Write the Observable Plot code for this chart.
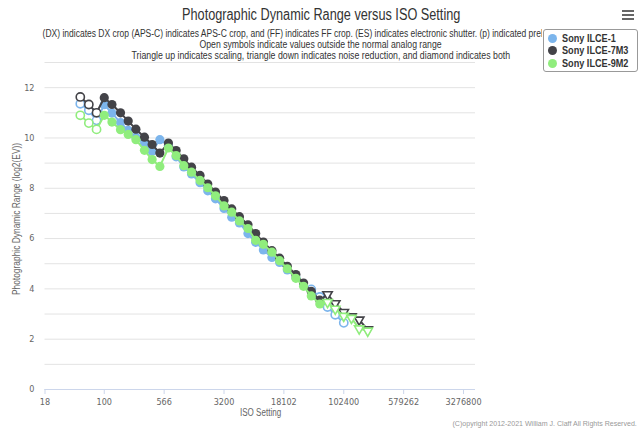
<!DOCTYPE html>
<html>
<head>
<meta charset="utf-8">
<script src="https://cdn.jsdelivr.net/npm/d3@7"></script>
<script src="https://cdn.jsdelivr.net/npm/@observablehq/plot@0.6"></script>
<style>
  body { margin: 0; background: #fff; }
  #wrap { position: relative; width: 640px; height: 431px; overflow: hidden;
          font-family: "Liberation Sans", "DejaVu Sans Condensed", sans-serif; }
  #wrap > svg { position: absolute; left: 0; top: 0; }
  .t { position: absolute; left: 0; top: 0; white-space: nowrap; line-height: 1; transform-origin: center center; }
</style>
</head>
<body>
<div id="wrap"></div>
<script>
// ---------- data ----------
const isos = [50, 64, 80, 100, 125, 160, 200, 250, 320, 400, 500, 640, 800,
  1000, 1250, 1600, 2000, 2500, 3200, 4000, 5000, 6400, 8000,
  10000, 12800, 16000, 20000, 25600, 32000, 40000, 51200, 64000, 80000,
  102400, 128000, 160000, 204800];

const cameras = ["Sony ILCE-1", "Sony ILCE-7M3", "Sony ILCE-9M2"];
const colors = ["#7cb5ec", "#434348", "#90ed7d"];

const ilce1 = [11.36, 11.1, 10.7, 11.32, 10.99, 10.61, 10.30, 10.03, 9.77, 9.47, 9.93, 9.7, 9.25,
  8.85, 8.57, 8.22, 7.9, 7.58, 7.2, 6.85, 6.62, 6.2, 5.85,
  5.55, 5.25, 5.05, 4.75, 4.45, 4.15, 3.98, 3.68, 3.28, 2.97,
  2.65, null, null, null];
const ilce7m3 = [11.63, 11.33, 11.0, 11.6, 11.33, 11.0, 10.67, 10.35, 10.03, 9.74, 9.40, 9.8, 9.5,
  9.17, 8.84, 8.51, 8.17, 7.85, 7.51, 7.18, 6.87, 6.55, 6.2,
  5.86, 5.52, 5.22, 4.9, 4.57, 4.23, 3.9, 3.55, 3.78, 3.42,
  3.07, 2.9, 2.77, 2.38];
const ilce9m2 = [10.9, 10.59, 10.34, 10.9, 10.63, 10.33, 10.14, 9.93, 9.51, 9.14, 8.87, 9.6, 9.3,
  8.9, 8.64, 8.31, 8.02, 7.7, 7.3, 7.05, 6.7, 6.4, 5.93,
  5.77, 5.46, 5.12, 4.8, 4.42, 4.1, 3.72, 3.4, 3.47, 3.2,
  2.92, 2.84, 2.42, 2.33];

const seriesValues = [ilce1, ilce7m3, ilce9m2];
const nativeMin = [100, 100, 100];
const nativeMax = [32000, 51200, 51200];
const highSymbol = ["open", "triangle", "triangle"];

const xTickLabels = ["18", "100", "566", "3200", "18102", "102400", "579262", "3276800"];
const xDomain = [18, 4634000];
const yTickLabels = [0, 2, 4, 6, 8, 10, 12];
const yGrid = [0, 1, 2, 3, 4, 5, 6, 7, 8, 9, 10, 11, 12, 13];

const titleText = "Photographic Dynamic Range versus ISO Setting";
const subtitleLines = [
  "(DX) indicates DX crop (APS-C) indicates APS-C crop, and (FF) indicates FF crop. (ES) indicates electronic shutter. (p) indicated preliminary",
  "Open symbols indicate values outside the normal analog range",
  "Triangle up indicates scaling, triangle down indicates noise reduction, and diamond indicates both"
];
const subtitleVisiblePrefix = "(DX) indicates DX crop (APS-C) indicates APS-C crop, and (FF) indicates FF crop. (ES) indicates electronic shutter. (p) indicated pre";
const yLabel = "Photographic Dynamic Range (log2(EV))";
const xLabel = "ISO Setting";
const creditText = "(C)opyright 2012-2021 William J. Claff All Rights Reserved.";

// ---------- build rows ----------
const FONT = '"DejaVu Sans Condensed", "Liberation Sans", sans-serif';
const seriesRows = seriesValues.map((vals, s) => {
  const rows = [];
  vals.forEach((v, i) => {
    if (v == null) return;
    const iso = isos[i];
    let kind = "filled";
    if (iso < nativeMin[s]) kind = "open";
    else if (iso > nativeMax[s]) kind = highSymbol[s];
    rows.push({ camera: cameras[s], iso, lx: Math.log2(iso), dr: v, kind });
  });
  return rows;
});

const xTicks = xTickLabels.map(l => Math.log2(Number(l)));
const marks = [
  Plot.gridY(yGrid, { stroke: "#e3e3e3", strokeOpacity: 1 }),
  Plot.ruleY([0], { stroke: "#ccd6eb" }),
  Plot.axisY(yTickLabels, {
    tickSize: 0, tickPadding: 10.5, fill: "#666", fontSize: 9, label: null
  }),
  Plot.axisX(xTicks, {
    tickSize: 5, tickPadding: 4, stroke: "#ccd6eb", fill: "#666", fontSize: 9,
    tickFormat: d => String(Math.round(2 ** d)), label: null
  })
];
seriesRows.forEach((rows, s) => {
  const c = colors[s];
  marks.push(Plot.line(rows, { x: "lx", y: "dr", stroke: c, strokeWidth: 2 }));
  marks.push(Plot.dot(rows.filter(d => d.kind === "filled"), { x: "lx", y: "dr", r: 4.6, fill: c, stroke: "none" }));
  marks.push(Plot.dot(rows.filter(d => d.kind === "open"), { x: "lx", y: "dr", r: 4.1, fill: "white", stroke: c, strokeWidth: 1.6 }));
  marks.push(Plot.dot(rows.filter(d => d.kind === "triangle"), { x: "lx", y: "dr", r: 3.5, symbol: "triangle", rotate: 180, fill: "white", stroke: c, strokeWidth: 1.6 }));
});

const chart = Plot.plot({
  width: 640, height: 431,
  marginTop: 62, marginLeft: 44.5, marginRight: 165, marginBottom: 42,
  style: { fontFamily: FONT, fontSize: "9px", color: "#666", background: "transparent" },
  x: { type: "linear", domain: xDomain.map(Math.log2), axis: null },
  y: { domain: [0, 13], axis: null },
  marks
});

const wrap = document.getElementById("wrap");
wrap.appendChild(chart);

// place a text so that its box (after horizontal fit) is centered at (cx, cy) with the given width
function place(parent, txt, { size, color, weight = "normal", cx, cy, width, rotate = 0, scale }) {
  const d = document.createElement("div");
  d.className = "t";
  d.textContent = txt;
  Object.assign(d.style, { fontSize: size + "px", color, fontWeight: weight });
  parent.appendChild(d);
  const w = d.offsetWidth, h = d.offsetHeight;
  const sx = scale != null ? scale : width / w;
  d.style.left = (cx - w / 2) + "px";
  d.style.top = (cy - h / 2) + "px";
  d.style.transform = `rotate(${rotate}deg) scaleX(${sx})`;
  return { el: d, w, sx };
}
function measure(txt, size, weight = "normal") {
  const d = document.createElement("div");
  d.className = "t";
  d.textContent = txt;
  Object.assign(d.style, { fontSize: size + "px", fontWeight: weight, visibility: "hidden" });
  wrap.appendChild(d);
  const w = d.offsetWidth;
  d.remove();
  return w;
}

// title
place(wrap, titleText, { size: 16, color: "#333", cx: 321, cy: 15, width: 278 });
// subtitle line 1: left aligned at 43, clipped where the legend box starts (as in the reference)
{
  const size = 10;
  const clip = document.createElement("div");
  Object.assign(clip.style, { position: "absolute", left: "0px", top: "26px", width: "542px", height: "15px", overflow: "hidden" });
  wrap.appendChild(clip);
  const sx = 498 / measure(subtitleVisiblePrefix, size);
  const full = measure(subtitleLines[0], size) * sx;
  place(clip, subtitleLines[0], { size, color: "#333", cx: 43 + full / 2, cy: 7.5, scale: sx });
}
place(wrap, subtitleLines[1], { size: 10, color: "#333", cx: 320, cy: 45, width: 242 });
place(wrap, subtitleLines[2], { size: 10, color: "#333", cx: 320.5, cy: 56, width: 379 });
// axis titles
place(wrap, yLabel, { size: 10, color: "#666", cx: 16, cy: 219, width: 152, rotate: -90 });
place(wrap, xLabel, { size: 10, color: "#666", cx: 260, cy: 413, width: 41 });
// credit
place(wrap, creditText, { size: 8, color: "#999", cx: 636 - 92, cy: 424, width: 184 });

// legend
const lg = document.createElement("div");
Object.assign(lg.style, { position: "absolute", left: "543px", top: "29px", width: "95px", height: "43px",
  border: "1px solid #999", borderRadius: "3px", background: "#fff", boxSizing: "border-box" });
wrap.appendChild(lg);
{
  const size = 10.5;
  const sx = 66 / measure(cameras[2], size, "bold");
  cameras.forEach((name, i) => {
    const cy = 8.3 + i * 12.5;
    const dot = document.createElement("div");
    Object.assign(dot.style, { position: "absolute", left: (8.5 - 4.5) + "px", top: (cy - 4.5) + "px",
      width: "9px", height: "9px", borderRadius: "50%", background: colors[i] });
    lg.appendChild(dot);
    const w = measure(name, size, "bold") * sx;
    place(lg, name, { size, color: "#333", weight: "bold", cx: 18 + w / 2, cy, scale: sx });
  });
}
// menu icon
[11, 15, 19].forEach(y => {
  const b = document.createElement("div");
  Object.assign(b.style, { position: "absolute", left: "622px", top: (y - 1) + "px", width: "12px", height: "2px", background: "#666" });
  wrap.appendChild(b);
});
</script>
</body>
</html>
